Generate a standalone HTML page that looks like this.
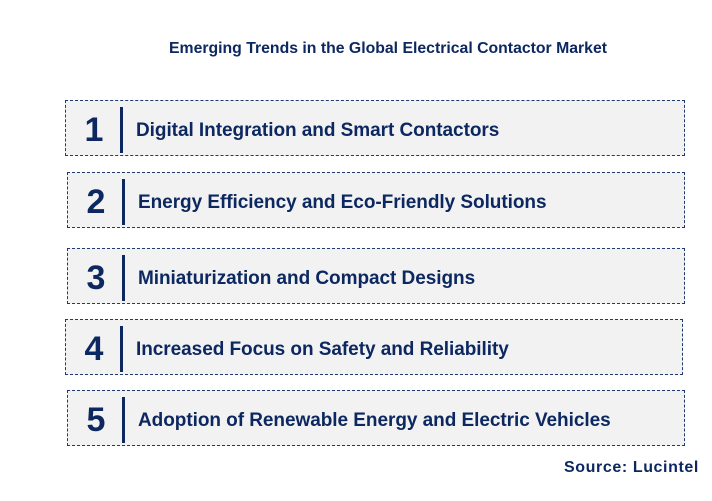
<!DOCTYPE html>
<html><head><style>
body{margin:0;width:712px;height:501px;background:#fff;font-family:"Liberation Sans",Arial,sans-serif;position:relative;overflow:hidden}
.t{position:absolute;top:40px;left:168px;width:440px;text-align:center;font-size:15.8px;font-weight:bold;color:#0d2860;white-space:nowrap}
.b{position:absolute;height:56px;background:#f2f2f2;border:1px dashed #1f3a6e;box-sizing:border-box}
.n{position:absolute;left:12px;width:32px;top:10px;text-align:center;font-size:34px;font-weight:bold;color:#0d2860}
.bar{position:absolute;left:54px;top:6px;width:3px;height:46px;background:#0d2860}
.x{position:absolute;left:70px;top:19px;font-size:19px;font-weight:bold;color:#0d2860;white-space:nowrap;letter-spacing:-0.05px}
.s{position:absolute;left:564px;top:459px;font-size:16px;font-weight:bold;color:#0d2860;white-space:nowrap;letter-spacing:0.6px}
</style></head><body>
<div class="t">Emerging Trends in the Global Electrical Contactor Market</div>
<div class="b" style="left:65px;top:100px;width:620px"><div class="n">1</div><div class="bar"></div><div class="x">Digital Integration and Smart Contactors</div></div>
<div class="b" style="left:67px;top:172px;width:618px"><div class="n">2</div><div class="bar"></div><div class="x">Energy Efficiency and Eco-Friendly Solutions</div></div>
<div class="b" style="left:67px;top:248px;width:618px"><div class="n">3</div><div class="bar"></div><div class="x">Miniaturization and Compact Designs</div></div>
<div class="b" style="left:65px;top:319px;width:618px"><div class="n">4</div><div class="bar"></div><div class="x">Increased Focus on Safety and Reliability</div></div>
<div class="b" style="left:67px;top:390px;width:618px"><div class="n">5</div><div class="bar"></div><div class="x">Adoption of Renewable Energy and Electric Vehicles</div></div>
<div class="s">Source: Lucintel</div>
</body></html>
